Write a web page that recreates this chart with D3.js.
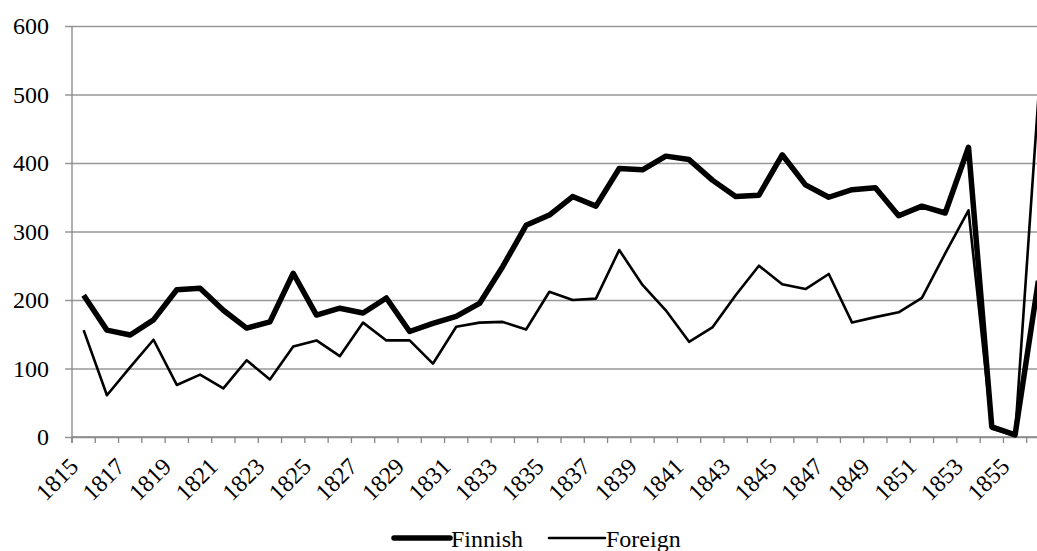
<!DOCTYPE html>
<html>
<head>
<meta charset="utf-8">
<script src="https://cdn.jsdelivr.net/npm/d3@7"></script>
<style>
  body { margin: 0; background: #fff; }
  svg text { font-family: "Liberation Serif", "Times New Roman", Times, "DejaVu Serif", serif !important; }
</style>
</head>
<body>
<div id="chart"></div>
<script>
// years 1815..1856
const years = [1815,1816,1817,1818,1819,1820,1821,1822,1823,1824,1825,1826,1827,1828,1829,1830,
  1831,1832,1833,1834,1835,1836,1837,1838,1839,1840,1841,1842,1843,1844,1845,1846,1847,1848,
  1849,1850,1851,1852,1853,1854,1855,1856];

const finnish = [207,156,149,171,215,217,185,159,168,239,178,188,181,203,154,166,
  176,195,249,309,324,351,337,392,390,410,405,375,351,353,412,368,350,361,
  364,323,337,327,423,15,3,228];

const foreign = [156,61,102,142,76,91,71,112,84,132,141,118,167,141,141,107,
  161,167,168,157,212,200,202,273,222,185,139,160,207,250,223,216,238,167,
  175,182,203,268,331,12,2,495];

const yTicks = [0,100,200,300,400,500,600];
const labelYears = years.filter((d, i) => i % 2 === 0);

const width = 1037, height = 551;
const margin = {top: 26, left: 72, bottom: 114};
const plotRight = 1050; // plot runs past the visible edge

const svg = d3.select("#chart").append("svg")
    .attr("width", width)
    .attr("height", height);

const x = d3.scaleBand()
    .domain(years)
    .range([margin.left, plotRight]);

const y = d3.scaleLinear()
    .domain([0, 600])
    .range([height - margin.bottom, margin.top]);

// gridlines + y axis labels
const yAxis = svg.append("g")
    .attr("transform", `translate(${margin.left},0)`)
    .call(d3.axisLeft(y).tickValues(yTicks).tickSize(-(plotRight - margin.left)).tickPadding(23).tickFormat(d3.format("d")));
yAxis.select(".domain").remove();
yAxis.selectAll(".tick line").attr("stroke", "#979797").attr("stroke-width", 1.3).attr("x1", -7);
yAxis.selectAll(".tick text").attr("font-size", 24).attr("fill", "#000");

// vertical axis line
svg.append("line")
    .attr("x1", margin.left).attr("x2", margin.left)
    .attr("y1", y(600)).attr("y2", y(0) + 6)
    .attr("stroke", "#868686").attr("stroke-width", 1.3);

// x axis baseline
svg.append("line")
    .attr("x1", margin.left).attr("x2", plotRight)
    .attr("y1", y(0)).attr("y2", y(0))
    .attr("stroke", "#868686").attr("stroke-width", 1.3);

// x tick marks at category boundaries
svg.append("g").selectAll("line")
    .data(years)
    .join("line")
    .attr("x1", d => x(d)).attr("x2", d => x(d))
    .attr("y1", y(0)).attr("y2", y(0) + 6)
    .attr("stroke", "#868686").attr("stroke-width", 1.3);

// x labels, rotated
svg.append("g").selectAll("text")
    .data(labelYears)
    .join("text")
    .attr("transform", d => `translate(${x(d) + x.bandwidth() / 2 - 4},${y(0) + 31}) rotate(-45)`)
    .attr("text-anchor", "end")
    .attr("font-size", 24)
    .attr("fill", "#000")
    .text(d => d);

const line = d3.line()
    .x((d, i) => x(years[i]) + x.bandwidth() / 2)
    .y(d => y(d));

svg.append("path")
    .datum(foreign)
    .attr("fill", "none")
    .attr("stroke", "#000")
    .attr("stroke-width", 2.6)
    .attr("stroke-linejoin", "round")
    .attr("d", line);

svg.append("path")
    .datum(finnish)
    .attr("fill", "none")
    .attr("stroke", "#000")
    .attr("stroke-width", 5.5)
    .attr("stroke-linejoin", "round")
    .attr("d", line);

// legend
const legend = [
  {name: "Finnish", w: 5.5, x0: 394},
  {name: "Foreign", w: 2.6, x0: 549}
];
const lg = svg.append("g").selectAll("g")
    .data(legend)
    .join("g")
    .attr("transform", d => `translate(${d.x0},538)`);
lg.append("line")
    .attr("x1", 0).attr("x2", 56)
    .attr("stroke", "#000")
    .attr("stroke-linecap", "round")
    .attr("stroke-width", d => d.w);
lg.append("text")
    .attr("x", 57)
    .attr("y", 9)
    .attr("font-size", 24)
    .attr("fill", "#000")
    .text(d => d.name);
</script>
</body>
</html>
